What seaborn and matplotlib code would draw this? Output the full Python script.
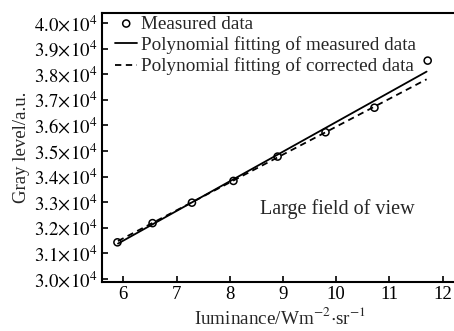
import matplotlib
matplotlib.use("Agg")
import matplotlib.pyplot as plt
import seaborn as sns
import pandas as pd
from matplotlib.ticker import FixedLocator, FuncFormatter

# ---- data ----
lum_measured = [5.89, 6.55, 7.29, 8.07, 8.90, 9.80, 10.72, 11.72]
gray_measured = [31430, 32180, 32980, 33830, 34780, 35730, 36690, 38530]
lum_fit = [5.90, 11.70]
gray_fit_measured = [31380, 38100]
gray_fit_corrected = [31480, 37800]
x_ticks = [6, 7, 8, 9, 10, 11, 12]
y_ticks = [30000, 31000, 32000, 33000, 34000, 35000, 36000, 37000, 38000, 39000, 40000]

sns.set_theme(style="ticks")
plt.rcParams["font.family"] = ["Liberation Serif", "DejaVu Serif"]
plt.rcParams["mathtext.fontset"] = "stix"

fig = plt.figure(figsize=(4.54, 3.31), dpi=100)
ax = fig.add_axes([102 / 454, 1 - 282 / 331, 1 - 102 / 454 + 0.01, (282 - 13) / 331])

df_m = pd.DataFrame({"x": lum_measured, "y": gray_measured})
df_f = pd.DataFrame({"x": lum_fit, "y1": gray_fit_measured, "y2": gray_fit_corrected})

sns.lineplot(data=df_f, x="x", y="y1", ax=ax, color="black", lw=1.3,
             label="Polynomial fitting of measured data")
sns.lineplot(data=df_f, x="x", y="y2", ax=ax, color="black", lw=1.3,
             linestyle=(0, (3.5, 2.5)), label="Polynomial fitting of corrected data")
sns.scatterplot(data=df_m, x="x", y="y", ax=ax, marker="o", s=26,
                facecolors="none", edgecolors="black", linewidth=1.1,
                label="Measured data", zorder=5)

ax.set_xlim(5.6, 12.3)
ax.set_ylim(29880, 40390)
ax.xaxis.set_major_locator(FixedLocator(x_ticks))
ax.yaxis.set_major_locator(FixedLocator(y_ticks))
ax.yaxis.set_major_formatter(FuncFormatter(lambda v, p: r"$%.1f\!\times\!10^{4}$" % (v / 10000)))
ax.tick_params(direction="in", length=4, width=1.2, labelsize=13.5, colors="black", pad=3)
for s in ["left", "bottom", "top"]:
    ax.spines[s].set_linewidth(1.5)
    ax.spines[s].set_color("black")
ax.spines["right"].set_visible(False)

ax.set_xlabel(r"Iuminance/Wm$^{-2}$$\cdot$sr$^{-1}$", fontsize=13.8, labelpad=3)
ax.set_ylabel("Gray level/a.u.", fontsize=13.5, labelpad=3)

handles, labels = ax.get_legend_handles_labels()
order = [labels.index("Measured data"),
         labels.index("Polynomial fitting of measured data"),
         labels.index("Polynomial fitting of corrected data")]
ax.legend([handles[i] for i in order], [labels[i] for i in order],
          loc="upper left", frameon=False, fontsize=13.8, handlelength=1.15,
          handletextpad=0.2, borderaxespad=0.0, labelspacing=0.18,
          borderpad=0.0, bbox_to_anchor=(0.037, 0.992))

ax.text(10.03, 32720, "Large field of view", fontsize=14.5, ha="center", va="center")

fig.savefig("out.png", dpi=100)
